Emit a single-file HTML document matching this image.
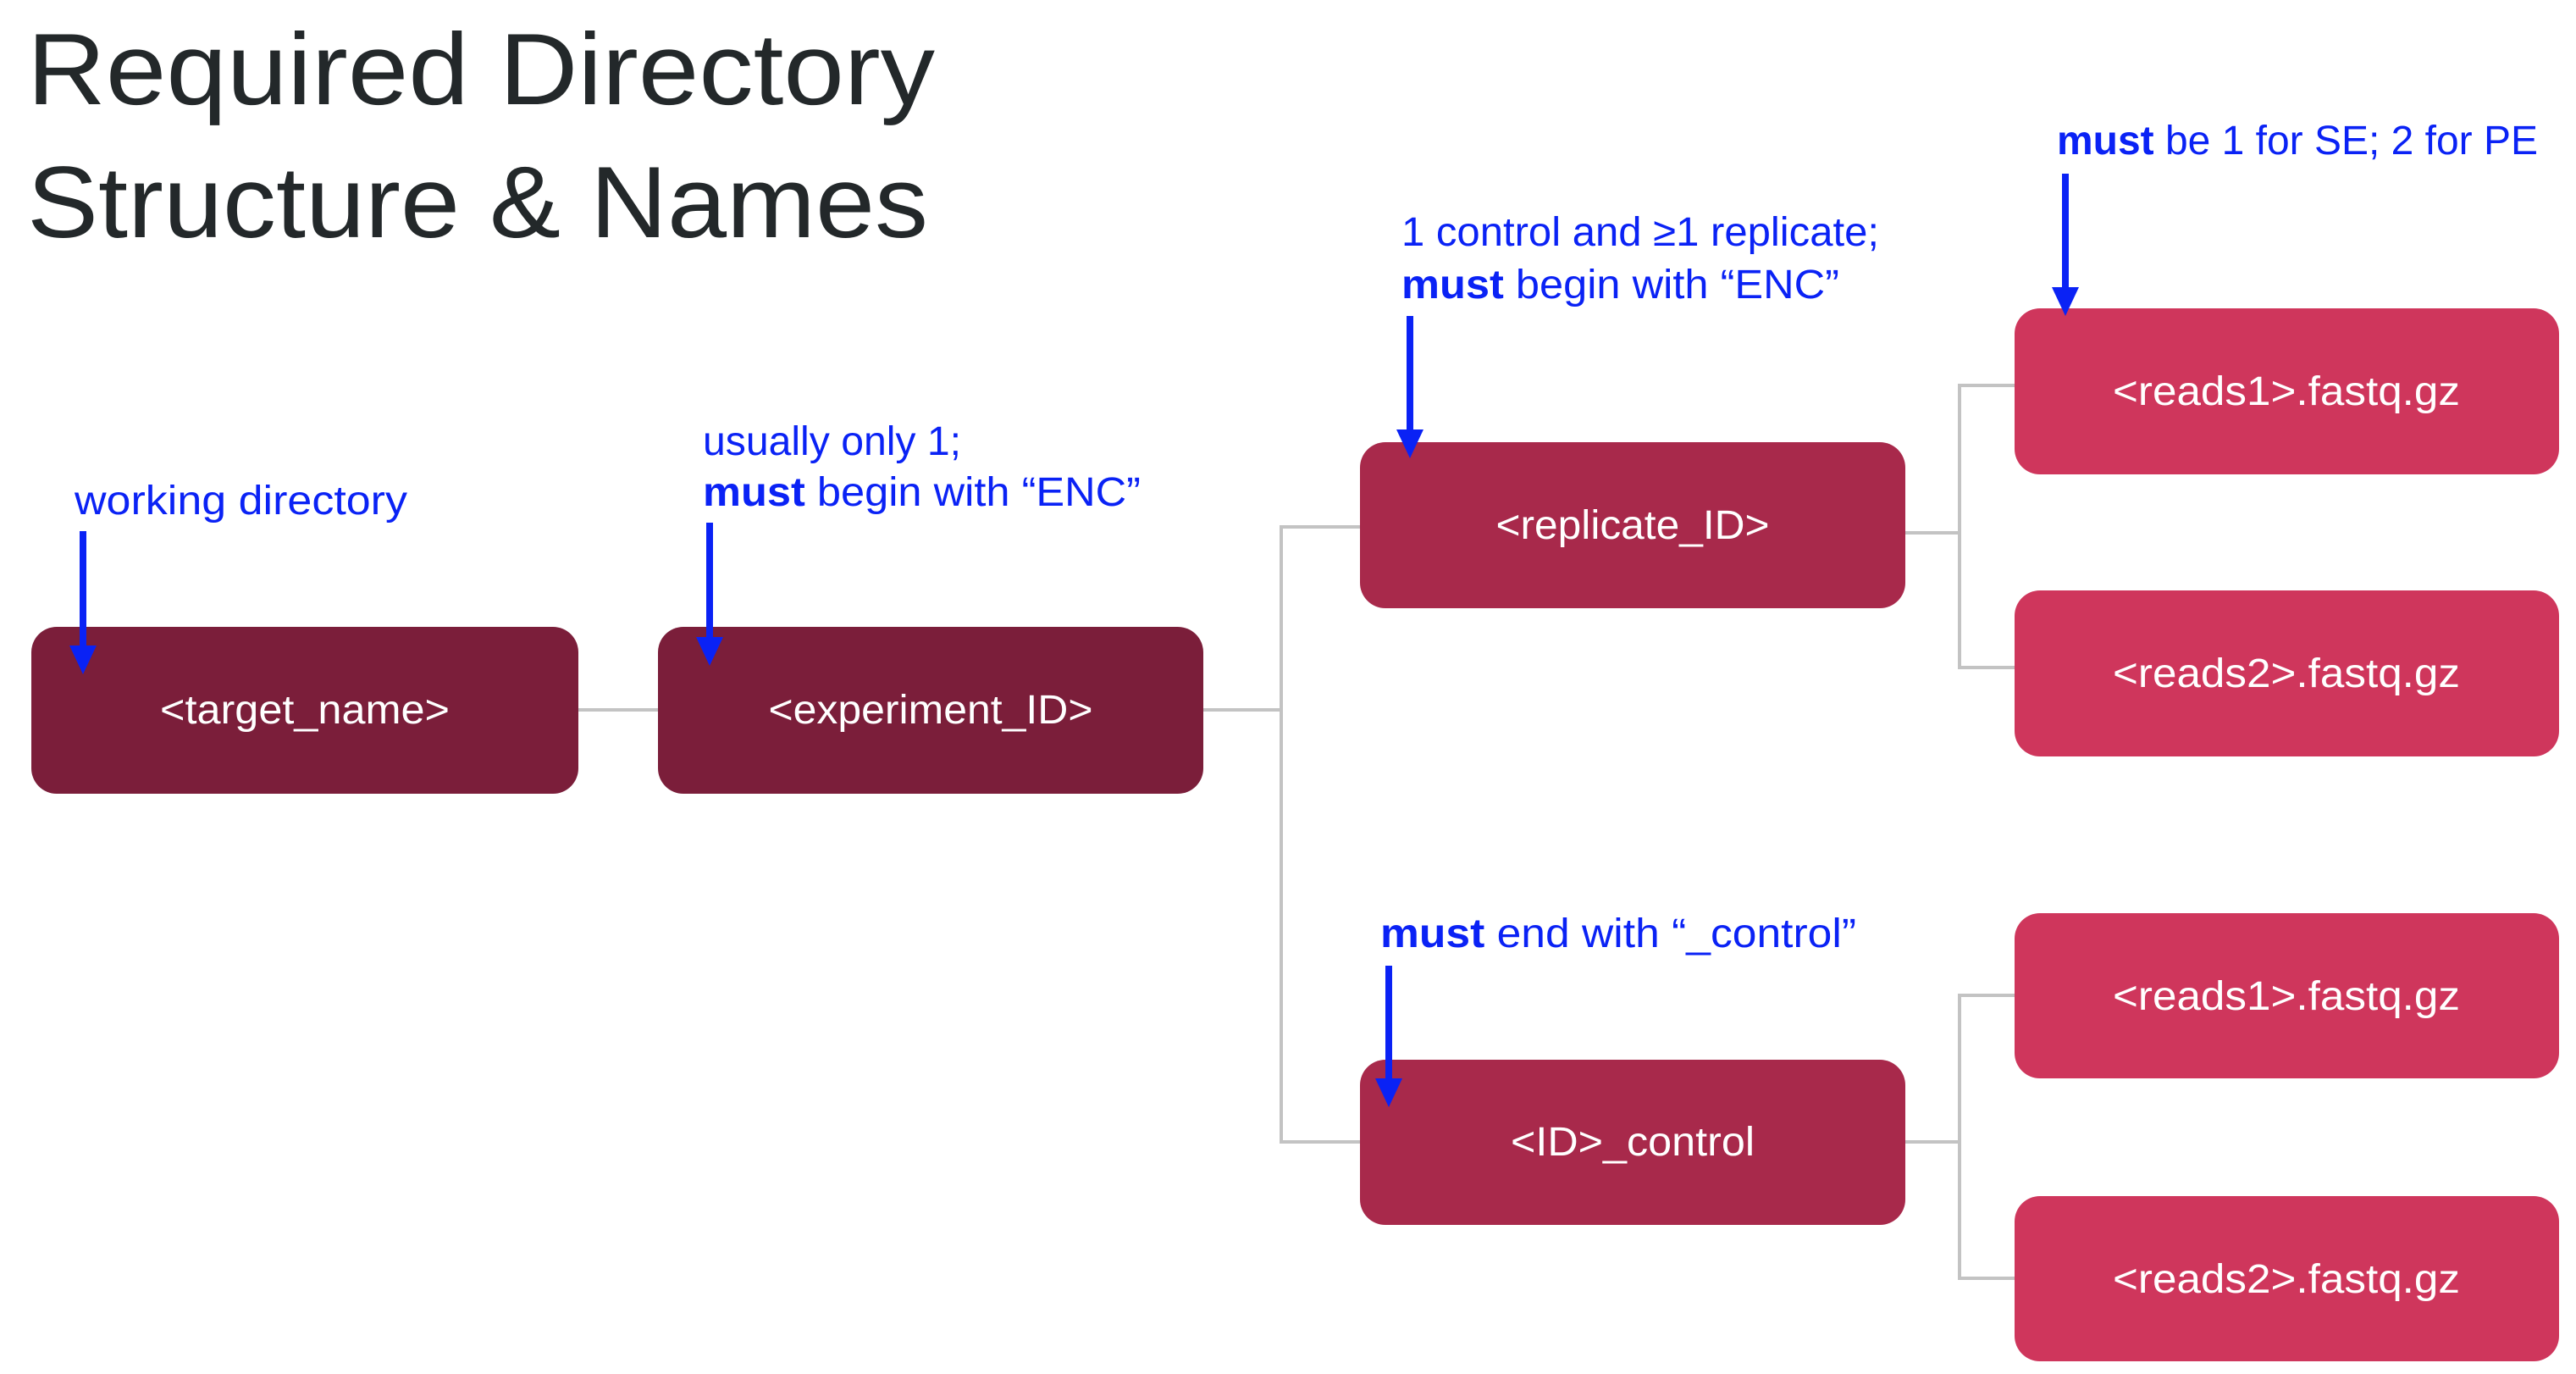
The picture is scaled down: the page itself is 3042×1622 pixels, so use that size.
<!DOCTYPE html>
<html><head><meta charset="utf-8"><style>
html,body{margin:0;padding:0;background:#fff;}
svg{display:block;}
</style></head><body>
<svg width="3042" height="1622" viewBox="0 0 3042 1622" xmlns="http://www.w3.org/2000/svg" font-family="Liberation Sans, sans-serif">
<rect width="3042" height="1622" fill="#fff"/>
<text x="32" y="123" font-size="120" fill="#23282a" textLength="1072" lengthAdjust="spacingAndGlyphs">Required Directory</text>
<text x="32" y="280" font-size="120" fill="#23282a" textLength="1064" lengthAdjust="spacingAndGlyphs">Structure &amp; Names</text>

<g stroke="#c3c3c3" stroke-width="4" fill="none">
<line x1="683" y1="838" x2="777" y2="838"/>
<polyline points="1421,838 1513,838"/>
<polyline points="1606,622 1513,622 1513,1348 1606,1348"/>
<polyline points="2250,629 2314,629"/>
<polyline points="2379,455 2314,455 2314,788 2379,788"/>
<polyline points="2250,1348 2314,1348"/>
<polyline points="2379,1175 2314,1175 2314,1509 2379,1509"/>
</g>

<g font-size="48" fill="#fff" text-anchor="middle" lengthAdjust="spacingAndGlyphs">
<rect x="37" y="740" width="646" height="197" rx="30" fill="#7b1e3a"/>
<text x="360" y="854" textLength="342" lengthAdjust="spacingAndGlyphs">&lt;target_name&gt;</text>
<rect x="777" y="740" width="644" height="197" rx="30" fill="#7b1e3a"/>
<text x="1099" y="854" textLength="383" lengthAdjust="spacingAndGlyphs">&lt;experiment_ID&gt;</text>
<rect x="1606" y="522" width="644" height="196" rx="30" fill="#a8294b"/>
<text x="1928" y="636" textLength="323" lengthAdjust="spacingAndGlyphs">&lt;replicate_ID&gt;</text>
<rect x="1606" y="1251" width="644" height="195" rx="30" fill="#a8294b"/>
<text x="1928" y="1364" textLength="288" lengthAdjust="spacingAndGlyphs">&lt;ID&gt;_control</text>
<rect x="2379" y="364" width="643" height="196" rx="30" fill="#cf365c"/>
<text x="2700" y="478" textLength="410" lengthAdjust="spacingAndGlyphs">&lt;reads1&gt;.fastq.gz</text>
<rect x="2379" y="697" width="643" height="196" rx="30" fill="#cf365c"/>
<text x="2700" y="811" textLength="410" lengthAdjust="spacingAndGlyphs">&lt;reads2&gt;.fastq.gz</text>
<rect x="2379" y="1078" width="643" height="195" rx="30" fill="#cf365c"/>
<text x="2700" y="1192" textLength="410" lengthAdjust="spacingAndGlyphs">&lt;reads1&gt;.fastq.gz</text>
<rect x="2379" y="1412" width="643" height="195" rx="30" fill="#cf365c"/>
<text x="2700" y="1526" textLength="410" lengthAdjust="spacingAndGlyphs">&lt;reads2&gt;.fastq.gz</text>
</g>

<g font-size="48" fill="#0a22f5">
<text x="88" y="607" textLength="393" lengthAdjust="spacingAndGlyphs">working directory</text>
<text x="830" y="537" textLength="305" lengthAdjust="spacingAndGlyphs">usually only 1;</text>
<text x="830" y="597" textLength="517" lengthAdjust="spacingAndGlyphs"><tspan font-weight="bold">must</tspan> begin with “ENC”</text>
<text x="1655" y="290" textLength="564" lengthAdjust="spacingAndGlyphs">1 control and ≥1 replicate;</text>
<text x="1655" y="352" textLength="517" lengthAdjust="spacingAndGlyphs"><tspan font-weight="bold">must</tspan> begin with “ENC”</text>
<text x="2429" y="182" textLength="568" lengthAdjust="spacingAndGlyphs"><tspan font-weight="bold">must</tspan> be 1 for SE; 2 for PE</text>
<text x="1630" y="1118" textLength="562" lengthAdjust="spacingAndGlyphs"><tspan font-weight="bold">must</tspan> end with “_control”</text>
</g>

<g stroke="#0a22f5" stroke-width="8" fill="#0a22f5">
<line x1="98" y1="627" x2="98" y2="770"/><polygon stroke="none" points="82,762 114,762 98,796"/>
<line x1="838" y1="617" x2="838" y2="760"/><polygon stroke="none" points="822,752 854,752 838,786"/>
<line x1="1665" y1="373" x2="1665" y2="515"/><polygon stroke="none" points="1649,507 1681,507 1665,541"/>
<line x1="2439" y1="205" x2="2439" y2="347"/><polygon stroke="none" points="2423,339 2455,339 2439,373"/>
<line x1="1640" y1="1140" x2="1640" y2="1281"/><polygon stroke="none" points="1624,1273 1656,1273 1640,1307"/>
</g>
</svg>
</body></html>
